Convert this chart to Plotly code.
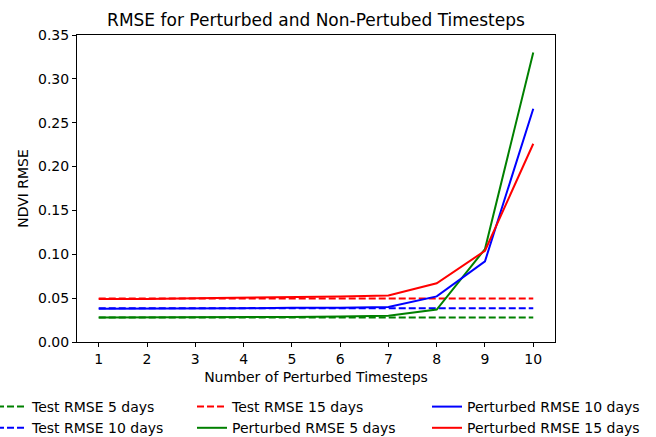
import plotly.graph_objects as go

timesteps = [1, 2, 3, 4, 5, 6, 7, 8, 9, 10]
test_5 = [0.028] * 10
test_10 = [0.0385] * 10
test_15 = [0.0495] * 10
pert_5 = [0.028, 0.028, 0.028, 0.0285, 0.0285, 0.029, 0.030, 0.037, 0.106, 0.330]
pert_10 = [0.038, 0.038, 0.0385, 0.0385, 0.039, 0.039, 0.040, 0.052, 0.092, 0.266]
pert_15 = [0.049, 0.049, 0.050, 0.0505, 0.051, 0.052, 0.053, 0.067, 0.104, 0.226]

GREEN = "#008000"
BLUE = "#0000ff"
RED = "#ff0000"
DASH = "7px,3px"
FONT = "DejaVu Sans"

series = [
    ("Test RMSE 5 days", test_5, GREEN, DASH, "legend"),
    ("Test RMSE 10 days", test_10, BLUE, DASH, "legend"),
    ("Test RMSE 15 days", test_15, RED, DASH, "legend2"),
    ("Perturbed RMSE 5 days", pert_5, GREEN, "solid", "legend2"),
    ("Perturbed RMSE 10 days", pert_10, BLUE, "solid", "legend3"),
    ("Perturbed RMSE 15 days", pert_15, RED, "solid", "legend3"),
]

fig = go.Figure()
for name, vals, color, dash, lg in series:
    fig.add_trace(go.Scatter(
        x=timesteps, y=vals, mode="lines", name=name,
        line=dict(color=color, width=2, dash=dash), legend=lg,
    ))

L, R, T, B = 77, 101, 35, 95
W, H = 656, 437
pw = W - L - R
ph = H - T - B

def lx(px):
    return (px - L) / pw

def ly(py):
    return (H - B - py) / ph

leg_common = dict(
    orientation="v", yanchor="top", xanchor="left",
    font=dict(family=FONT, size=14, color="black"),
    bgcolor="rgba(0,0,0,0)", borderwidth=0, tracegroupgap=0,
)

fig.update_layout(
    width=W, height=H,
    margin=dict(l=L, r=R, t=T, b=B, autoexpand=False),
    paper_bgcolor="white", plot_bgcolor="white",
    font=dict(family=FONT, size=14, color="black"),
    title=dict(text="RMSE for Perturbed and Non-Pertubed Timesteps",
               x=(L + pw / 2) / W, xanchor="center", y=1 - 20 / H, yanchor="middle",
               font=dict(family=FONT, size=17, color="black")),
    showlegend=True,
    legend=dict(x=lx(-8), y=ly(391), **leg_common),
    legend2=dict(x=lx(192), y=ly(391), **leg_common),
    legend3=dict(x=lx(427), y=ly(391), **leg_common),
)
fig.update_xaxes(
    range=[0.55, 10.45], tickmode="array", tickvals=timesteps,
    ticktext=[str(t) for t in timesteps],
    showgrid=False, zeroline=False, showline=True, linecolor="black", linewidth=1,
    mirror=True, ticks="outside", ticklen=4, tickcolor="black",
    tickfont=dict(family=FONT, size=14),
    title=dict(text="Number of Perturbed Timesteps", font=dict(family=FONT, size=14), standoff=6),
)
fig.update_yaxes(
    range=[0, 0.35], tickmode="array",
    tickvals=[0, 0.05, 0.1, 0.15, 0.2, 0.25, 0.3, 0.35],
    ticktext=["0.00", "0.05", "0.10", "0.15", "0.20", "0.25", "0.30", "0.35"],
    showgrid=False, zeroline=False, showline=True, linecolor="black", linewidth=1,
    mirror=True, ticks="outside", ticklen=4, tickcolor="black",
    tickfont=dict(family=FONT, size=14),
    title=dict(text="NDVI RMSE", font=dict(family=FONT, size=14), standoff=6),
)

fig.write_html("out.html")
